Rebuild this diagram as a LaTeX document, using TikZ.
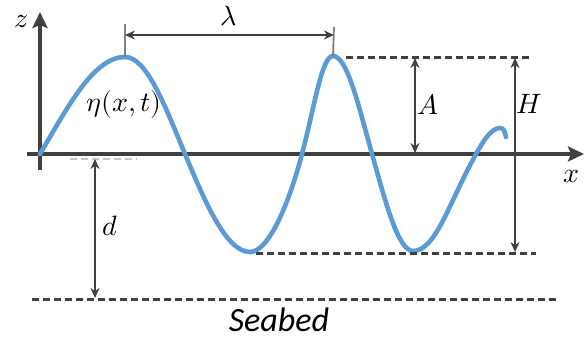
\documentclass[tikz,border=0pt]{standalone}
\usepackage{fontspec}
\usepackage{unicode-math}
\setmathfont{Latin Modern Math}
\newfontfamily\seafont{Carlito}
\usetikzlibrary{arrows.meta}
\definecolor{wave}{HTML}{5B9BD5}
\definecolor{ink}{HTML}{404040}
\tikzset{
  axisline/.style={ink, line width=4.8pt, -{Stealth[length=16pt,width=15pt,inset=3pt]}},
  dimarrow/.style={ink, line width=2.2pt, {Stealth[length=10pt,width=9pt]}-{Stealth[length=10pt,width=9pt]}},
  levelline/.style={ink, line width=3pt, dash pattern=on 7pt off 4pt},
  tickline/.style={gray, line width=1.8pt},
  wavepath/.style={wave, line width=4.6pt, line cap=round, line join=round},
  lbl/.style={inner sep=0pt, font=\fontsize{28}{32}\selectfont},
}
\begin{document}
\begin{tikzpicture}[x=1pt,y=-1pt]
\useasboundingbox (0,0) rectangle (586,340);
% coordinates
\coordinate (zb) at (40,170);
\coordinate (zt) at (40,12);
\coordinate (xl) at (27,154);
\coordinate (xr) at (584,154);
\coordinate (p1) at (125,57);
\coordinate (p2) at (333,56);
% axes
\draw[axisline] (zb) -- (zt);
\draw[axisline] (xl) -- (xr);
% light dashed at surface
\draw[gray!45, line width=1.8pt, dash pattern=on 7pt off 4pt] (70,159) -- (137,159);
% wave
\draw[wavepath] (40,154)
  .. controls (68.5,105.5) and (94,57) .. (125,57)
  .. controls (146.7,57) and (164.8,105.5) .. (185,154)
  .. controls (205.4,203) and (226.5,252) .. (250,252)
  .. controls (268.8,252) and (289.1,203) .. (302,154)
  .. controls (314.9,105) and (321.8,56) .. (333,56)
  .. controls (347.1,56) and (358.4,105) .. (372,154)
  .. controls (385.6,202.5) and (398.2,251) .. (413,251)
  .. controls (435.8,251) and (449,202.5) .. (476,154)
  .. controls (483.2,141) and (491.3,128) .. (500,128)
  .. controls (503,128) and (505,131) .. (506,137);
% level lines
\coordinate (pk2r) at (346,57);
\coordinate (pk2e) at (530,57);
\coordinate (tr1l) at (256,253);
\coordinate (tr1e) at (536,253);
\coordinate (sbl) at (32,299);
\coordinate (sbr) at (556,299);
\draw[levelline] (pk2r) -- (pk2e);
\draw[levelline] (tr1l) -- (tr1e);
\draw[levelline] (sbl) -- (sbr);
% wavelength
\coordinate (lt1) at (125,24);
\coordinate (lt2) at (334,27);
\coordinate (la) at (125,35);
\coordinate (lb) at (334,35);
\draw[tickline] (lt1) -- (p1);
\draw[tickline] (lt2) -- (p2);
\draw[dimarrow] (la) -- (lb);
\node[lbl] (lam) at (229,16) {$\lambda$};
% amplitude
\coordinate (aT) at (415,58);
\coordinate (aB) at (415,153);
\draw[dimarrow] (aT) -- (aB);
\node[lbl] (Alab) at (428,104) {$A$};
% height
\coordinate (hT) at (515,58);
\coordinate (hB) at (515,252);
\draw[dimarrow] (hT) -- (hB);
\node[lbl] (Hlab) at (529,104) {$H$};
% depth
\coordinate (dT) at (95,159);
\coordinate (dB) at (95,298);
\draw[dimarrow] (dT) -- (dB);
\node[lbl] (dlab) at (110,226) {$d$};
% other labels
\node[lbl] (eta) at (124,104) {$\eta(x,t)$};
\node[lbl] (zlab) at (21,21) {$z$};
\node[lbl] (xlab) at (571,176) {$x$};
\node[inner sep=0pt, font=\seafont\itshape\fontsize{34}{38}\selectfont] (sea) at (279,320) {Seabed};
\end{tikzpicture}
\end{document}
